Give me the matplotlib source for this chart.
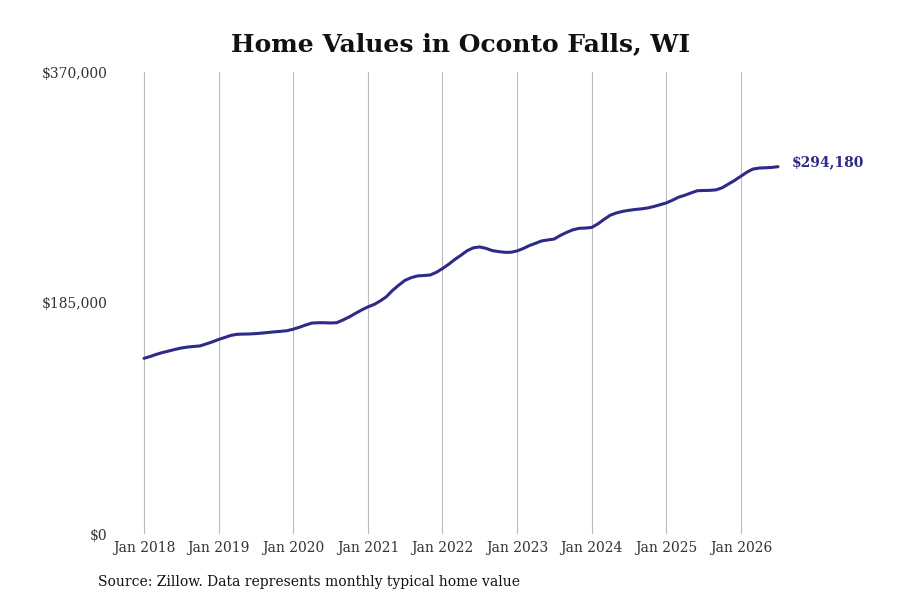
import matplotlib
matplotlib.use("Agg")
import matplotlib.pyplot as plt
import matplotlib.dates as mdates
import numpy as np
import datetime as dt

# Monthly typical home value, Jan 2018 - Jul 2026
start_year, start_month = 2018, 1
values = [
    140700, 142200, 143800, 145300, 146500, 147800, 148900, 149700, 150200, 150600,
    152200, 153800, 155800, 157400, 159000, 159900, 160100, 160200, 160500, 160900,
    161400, 161900, 162300, 162800, 164000, 165600, 167300, 168900, 169200, 169200,
    169000, 169200, 171400, 173800, 176700, 179400, 181900, 183900, 186500, 190000,
    195000, 199300, 203100, 205300, 206700, 207000, 207400, 209500, 212600, 216100,
    219700, 223200, 226800, 229200, 229900, 228800, 227000, 226200, 225600, 225600,
    226700, 228700, 230900, 232800, 234700, 235500, 236200, 239100, 241600, 243600,
    244800, 245000, 245500, 248400, 251900, 255300, 257100, 258400, 259200, 259900,
    260400, 261100, 262300, 263700, 265200, 267400, 269700, 271300, 273100, 274900,
    275100, 275200, 275600, 277300, 280300, 283200, 286600, 290000, 292300, 293100,
    293300, 293600, 294180,
]
y_ticks = [0, 185000, 370000]
y_tick_labels = ["$0", "$185,000", "$370,000"]
x_tick_years = list(range(2018, 2027))
title = "Home Values in Oconto Falls, WI"
source = "Source: Zillow. Data represents monthly typical home value"
line_color = "#2e2a88"

dates = []
for i in range(len(values)):
    m = start_month - 1 + i
    dates.append(dt.date(start_year + m // 12, m % 12 + 1, 1))

plt.rcParams["font.family"] = ["DejaVu Serif"]

fig = plt.figure(figsize=(9, 6), dpi=100)
W, H = 900, 600
left_px, right_px, top_px, bottom_px = 112, 830, 72, 534
ax = fig.add_axes([left_px / W, 1 - bottom_px / H, (right_px - left_px) / W,
                   (bottom_px - top_px) / H])

ax.plot(dates, values, color=line_color, linewidth=2.2, solid_capstyle="round",
        solid_joinstyle="round")

# x limits so Jan 2018 at px 144 and Jan 2026 at px 741
d0 = mdates.date2num(dt.date(2018, 1, 1))
d1 = mdates.date2num(dt.date(2026, 1, 1))
ppd = (741 - 144) / (d1 - d0)
ax.set_xlim(d0 - (144 - left_px) / ppd, d0 + (right_px - 144) / ppd)
ax.set_ylim(0, 370000)

ax.set_xticks([dt.date(y, 1, 1) for y in x_tick_years])
ax.set_xticklabels([f"Jan {y}" for y in x_tick_years])
ax.set_yticks(y_ticks)
ax.set_yticklabels(y_tick_labels)
ax.tick_params(axis="both", length=0, labelsize=10, colors="#333333")
ax.tick_params(axis="x", pad=5)
ax.tick_params(axis="y", pad=3.5)
ax.grid(axis="x", color="#bbbbbb", linewidth=0.8)
ax.grid(axis="y", visible=False)
for s in ax.spines.values():
    s.set_visible(False)

ax.annotate(f"${values[-1]:,}", xy=(mdates.date2num(dates[-1]), values[-1]),
            xytext=(10, 3.5), textcoords="offset points", color=line_color,
            fontsize=10, fontweight="bold", va="center", ha="left",
            annotation_clip=False)

fig.text(0.512, 1 - 44 / H, title, ha="center", va="center",
         fontsize=18, fontweight="bold", color="#111111")
fig.text(98 / W, 1 - 582 / H, source, ha="left", va="center", fontsize=10,
         color="#111111")

fig.savefig("out.png", dpi=100)
